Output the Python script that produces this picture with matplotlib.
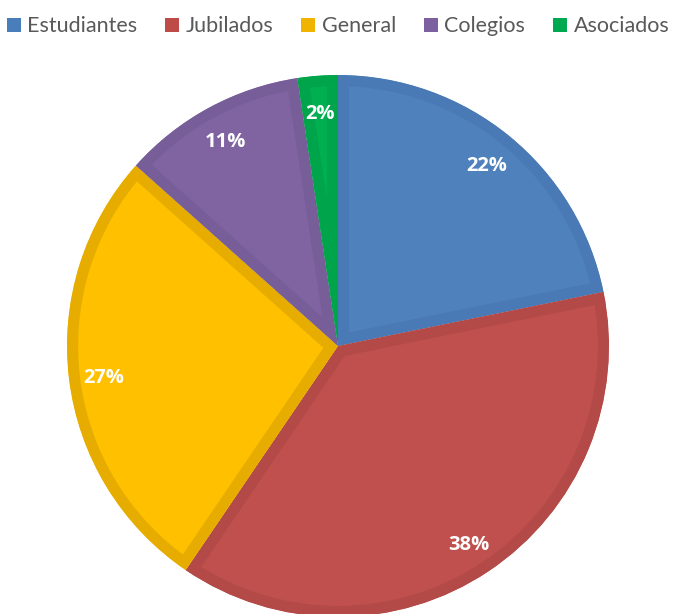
import matplotlib
matplotlib.use("Agg")
import matplotlib.pyplot as plt
from matplotlib.patches import Patch

categories = ["Estudiantes", "Jubilados", "General", "Colegios", "Asociados"]
values = [21.8, 37.7, 27.1, 11.0, 2.4]
fill_colors = ["#4F81BD", "#C0504D", "#FFC000", "#8064A2", "#00B050"]
edge_colors = ["#4A7AB5", "#B34A47", "#E6AD00", "#785E99", "#00A44B"]
legend_colors = ["#4A7EBB", "#BE4B48", "#F0B400", "#7D60A0", "#00A850"]

W, H = 676, 614
fig = plt.figure(figsize=(W / 100, H / 100), dpi=100)
ax = fig.add_axes([0, 0, 1, 1])

wedges, texts, autotexts = ax.pie(
    values, colors=fill_colors, startangle=90, counterclock=False,
    center=(338, H - 346), radius=271, autopct="%1.0f%%", pctdistance=0.87,
    textprops=dict(color="white", fontsize=14.5, fontweight="bold", family="Open Sans"),
    frame=True,
)
for w, ec in zip(wedges, edge_colors):
    w.set_edgecolor(ec)
    w.set_linewidth(16)
    w.set_joinstyle("miter")
    w.set_clip_on(True)
    w.set_clip_path(w)
for t in autotexts:
    x, y = t.get_position()
    t.set_position((x, y - 3))
ax.set_xlim(0, W)
ax.set_ylim(0, H)
ax.set_aspect("equal")
ax.axis("off")

handles = [Patch(facecolor=c, edgecolor="none") for c in legend_colors]
fig.legend(handles, categories, loc="upper center", bbox_to_anchor=(0.5, 1.005),
           ncol=5, frameon=False, handlelength=0.65, handleheight=0.65,
           handletextpad=0.3, columnspacing=1.3, labelcolor="#595959",
           prop=dict(family="Lato", size=15.5))

fig.savefig("out.png", dpi=100)
